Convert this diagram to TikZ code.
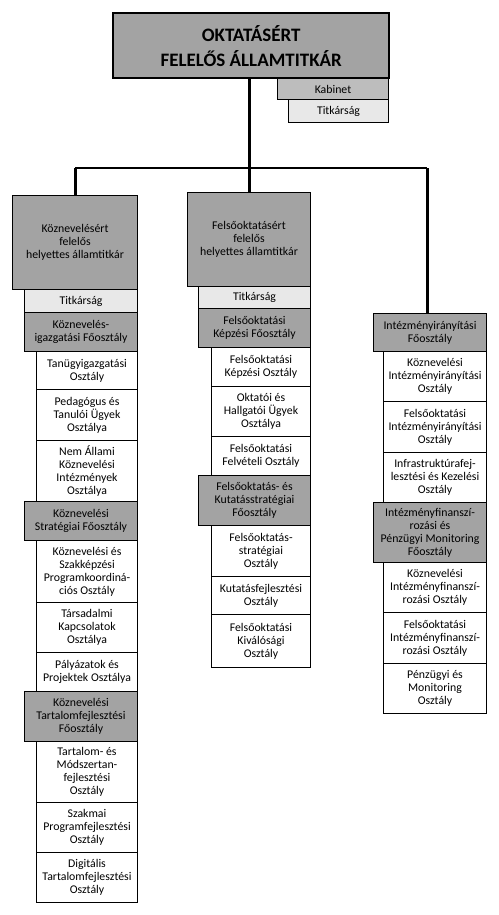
\documentclass[tikz,border=0pt]{standalone}
\usepackage{fontspec}
\setmainfont{Carlito}
\definecolor{darkgr}{HTML}{A3A3A3}
\definecolor{kabgr}{HTML}{BDBDBD}
\definecolor{lightgr}{HTML}{E8E8E8}
\tikzset{
  unit/.style={draw=black, line width=1pt, inner xsep=0pt, inner ysep=0pt, align=center,
    font=\fontsize{11.8}{13}\selectfont},
  headbox/.style={unit, fill=darkgr},
  kabbox/.style={unit, fill=kabgr},
  titbox/.style={unit, fill=lightgr},
  osztbox/.style={unit, fill=white},
  topbox/.style={draw=black, line width=2.4pt, fill=darkgr, align=center, inner sep=0pt,
    font=\fontsize{19}{25}\selectfont\bfseries},
  trunk/.style={draw=black, line width=3pt},
  bar/.style={draw=black, line width=1.3pt}
}
\newcommand\obox[7]{\node[#2, anchor=north west, minimum width={(#5-#3)*1pt}, minimum height={(#6-#4)*1pt}] (#1) at (#3,#4) {#7};}
\begin{document}
\begin{tikzpicture}[x=1pt,y=-1pt]
\useasboundingbox (0,0) rectangle (498,915);
% top
\obox{top}{topbox}{112}{12}{388}{77}{OKTATÁSÉRT\\FELELŐS ÁLLAMTITKÁR}
\obox{kab}{kabbox}{277}{78}{388}{99}{Kabinet}
\obox{ttit}{titbox}{288}{99}{388}{122}{Titkárság}
% connectors
\coordinate (barL) at (75,168);
\coordinate (barR) at (427,168);
\draw[bar] (barL) -- (barR);
% left column
\obox{hk}{headbox}{12}{195}{137}{289}{Köznevelésért\\felelős\\helyettes államtitkár}
\obox{lt}{titbox}{24}{289}{137}{312}{Titkárság}
\obox{lf1}{headbox}{24}{312}{137}{351}{Köznevelés-\\igazgatási Főosztály}
\obox{l1}{osztbox}{36}{351}{137}{389}{Tanügyigazgatási\\Osztály}
\obox{l2}{osztbox}{36}{389}{137}{440}{Pedagógus és\\Tanulói Ügyek\\Osztálya}
\obox{l3}{osztbox}{36}{440}{137}{501}{Nem Állami\\Köznevelési\\Intézmények\\Osztálya}
\obox{lf2}{headbox}{24}{501}{137}{540}{Köznevelési\\Stratégiai Főosztály}
\obox{l4}{osztbox}{36}{540}{137}{602}{Köznevelési és\\Szakképzési\\Programkoordiná-\\ciós Osztály}
\obox{l5}{osztbox}{36}{602}{137}{652}{Társadalmi\\Kapcsolatok\\Osztálya}
\obox{l6}{osztbox}{36}{652}{137}{691}{Pályázatok és\\Projektek Osztálya}
\obox{lf3}{headbox}{24}{691}{137}{741}{Köznevelési\\Tartalomfejlesztési\\Főosztály}
\obox{l7}{osztbox}{36}{741}{137}{802}{Tartalom- és\\Módszertan-\\fejlesztési\\Osztály}
\obox{l8}{osztbox}{36}{802}{137}{852}{Szakmai\\Programfejlesztési\\Osztály}
\obox{l9}{osztbox}{36}{852}{137}{902}{Digitális\\Tartalomfejlesztési\\Osztály}
% middle column
\obox{hf}{headbox}{187}{192}{310}{286}{Felsőoktatásért\\felelős\\helyettes államtitkár}
\obox{mt}{titbox}{198}{286}{310}{308}{Titkárság}
\obox{mf1}{headbox}{198}{308}{310}{347}{Felsőoktatási\\Képzési Főosztály}
\obox{m1}{osztbox}{211}{347}{310}{386}{Felsőoktatási\\Képzési Osztály}
\obox{m2}{osztbox}{211}{386}{310}{436}{Oktatói és\\Hallgatói Ügyek\\Osztálya}
\obox{m3}{osztbox}{211}{436}{310}{475}{Felsőoktatási\\Felvételi Osztály}
\obox{mf2}{headbox}{198}{475}{310}{525}{Felsőoktatás- és\\Kutatásstratégiai\\Főosztály}
\obox{m4}{osztbox}{211}{525}{310}{576}{Felsőoktatás-\\stratégiai\\Osztály}
\obox{m5}{osztbox}{211}{576}{310}{614}{Kutatásfejlesztési\\Osztály}
\obox{m6}{osztbox}{211}{614}{310}{667}{Felsőoktatási\\Kiválósági\\Osztály}
% right column
\obox{rf1}{headbox}{373}{313}{486}{351}{Intézményirányítási\\Főosztály}
\obox{r1}{osztbox}{383}{351}{486}{401}{Köznevelési\\Intézményirányítási\\Osztály}
\obox{r2}{osztbox}{383}{401}{486}{452}{Felsőoktatási\\Intézményirányítási\\Osztály}
\obox{r3}{osztbox}{383}{452}{486}{502}{Infrastruktúrafej-\\lesztési és Kezelési\\Osztály}
\obox{rf2}{headbox}{373}{502}{486}{562}{Intézményfinanszí-\\rozási és\\Pénzügyi Monitoring\\Főosztály}
\obox{r4}{osztbox}{383}{562}{486}{612}{Köznevelési\\Intézményfinanszí-\\rozási Osztály}
\obox{r5}{osztbox}{383}{612}{486}{663}{Felsőoktatási\\Intézményfinanszí-\\rozási Osztály}
\obox{r6}{osztbox}{383}{663}{486}{713}{Pénzügyi és\\Monitoring\\Osztály}
% trunks
\draw[trunk] (top.south -| hf.north) -- (hf.north);
\draw[trunk] (barL) -- (barL |- hk.north);
\draw[trunk] (barR) -- (barR |- rf1.north);
\end{tikzpicture}
\end{document}
